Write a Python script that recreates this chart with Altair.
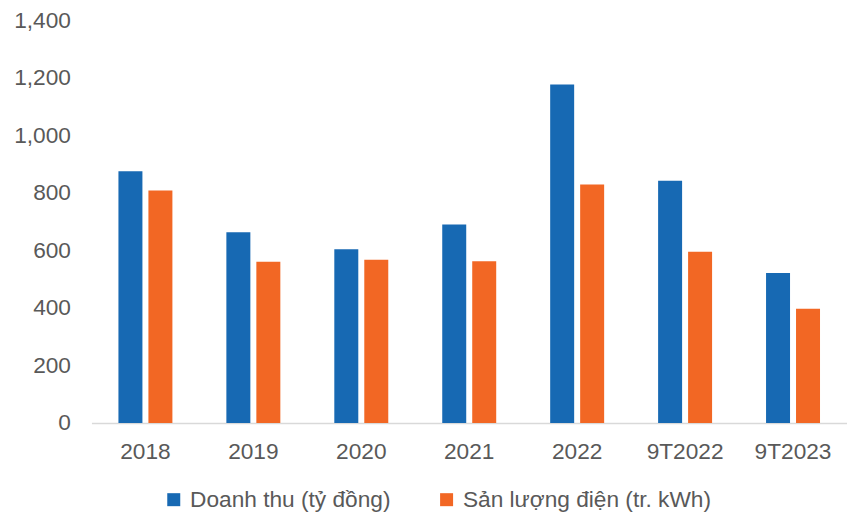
import altair as alt
import pandas as pd

categories = ["2018", "2019", "2020", "2021", "2022", "9T2022", "9T2023"]
series_names = ["Doanh thu (tỷ đồng)", "Sản lượng điện (tr. kWh)"]
doanh_thu = [875, 663, 604, 690, 1176, 842, 521]
san_luong = [808, 560, 567, 562, 829, 595, 397]
colors = ["#1769b3", "#f26724"]

rows = []
for c, a, b in zip(categories, doanh_thu, san_luong):
    rows.append({"cat": c, "series": series_names[0], "value": a})
    rows.append({"cat": c, "series": series_names[1], "value": b})
df = pd.DataFrame(rows)

FONT = "Liberation Sans"
FS = 22.7

chart = alt.Chart(df).mark_bar().encode(
    x=alt.X("cat:N", sort=categories, title=None,
            scale=alt.Scale(paddingInner=0.5, paddingOuter=0.25),
            axis=alt.Axis(labelAngle=0, ticks=False, domainColor="#d9d9d9",
                          domainWidth=1.5, labelFontSize=FS, labelColor="#595959",
                          labelFont=FONT, labelPadding=18)),
    xOffset=alt.XOffset("series:N", sort=series_names,
                        scale=alt.Scale(paddingInner=0.2, paddingOuter=0)),
    y=alt.Y("value:Q", title=None,
            scale=alt.Scale(domain=[0, 1400], nice=False),
            axis=alt.Axis(values=[0, 200, 400, 600, 800, 1000, 1200, 1400],
                          format=",.0f", grid=False, domain=False, ticks=False,
                          labelFontSize=FS, labelColor="#595959", labelFont=FONT,
                          labelPadding=21)),
    color=alt.Color("series:N", sort=series_names,
                    scale=alt.Scale(domain=series_names, range=colors),
                    legend=alt.Legend(title=None, orient="none", direction="horizontal",
                                      legendX=71, legendY=468,
                                      symbolType="square", symbolSize=169,
                                      symbolStrokeWidth=0, labelFontSize=FS,
                                      labelColor="#595959", labelFont=FONT,
                                      labelLimit=400,
                                      labelOffset=5, columnPadding=44,
                                      symbolOffset=0)),
).properties(
    width=756, height=403,
    autosize=alt.AutoSizeParams(type="none"),
    padding={"left": 83.5, "top": 12, "right": 0, "bottom": 92},
).configure_view(stroke=None)

chart.save("out.html", embed_options={"renderer": "svg", "actions": False})
